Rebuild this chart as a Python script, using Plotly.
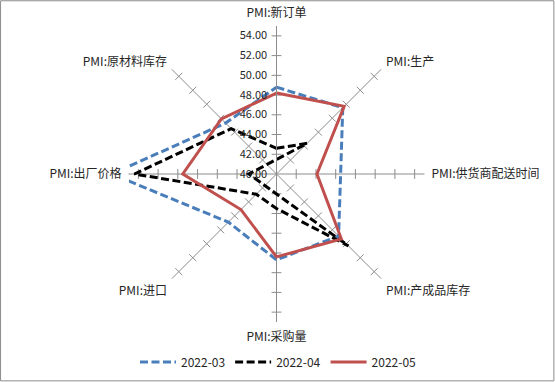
import plotly.graph_objects as go

categories = ["PMI:新订单", "PMI:生产", "PMI:供货商配送时间", "PMI:产成品库存",
              "PMI:采购量", "PMI:进口", "PMI:出厂价格", "PMI:原材料库存"]
series_names = ["2022-03", "2022-04", "2022-05"]
values_2022_03 = [48.8, 49.5, 46.5, 48.9, 48.7, 46.9, 56.7, 47.3]
values_2022_04 = [42.6, 44.4, 37.2, 50.3, 43.5, 42.9, 54.4, 46.5]
values_2022_05 = [48.2, 49.7, 44.1, 49.3, 48.4, 45.1, 49.5, 47.9]
tick_values = [40, 42, 44, 46, 48, 50, 52, 54]
tick_labels = ["40.00", "42.00", "44.00", "46.00", "48.00", "50.00", "52.00", "54.00"]
r_min, r_max = 40, 55

W, H = 555, 382
cx, cy, R = 276.5, 174, 148

n = len(categories)
cat_angles = [360.0 * i / n for i in range(n)]

styles = [
    dict(color="#4A7EBB", dash="8px,3.5px", width=3),
    dict(color="#000000", dash="8px,3.5px", width=3),
    dict(color="#C0504D", dash="solid", width=3),
]


def radar_coords(vals):
    # Excel-style radar: values below the axis minimum are drawn on the opposite side
    rs, ts = [], []
    for v, a in zip(vals, cat_angles):
        if v >= r_min:
            rs.append(v)
            ts.append(a)
        else:
            rs.append(2 * r_min - v)
            ts.append((a + 180) % 360)
    return rs + rs[:1], ts + ts[:1]


fig = go.Figure()

# small tick crosses on every spoke
for ang in cat_angles:
    fig.add_trace(go.Scatterpolar(
        r=tick_values[1:], theta=[ang] * (len(tick_values) - 1),
        mode="markers", showlegend=False, hoverinfo="skip",
        marker=dict(symbol="line-ns", size=7, angle=ang + 90,
                    line=dict(color="#8c8c8c", width=1), color="#8c8c8c")))

for name, vals, st in zip(series_names, [values_2022_03, values_2022_04, values_2022_05], styles):
    rr, tt = radar_coords(vals)
    fig.add_trace(go.Scatterpolar(
        r=rr, theta=tt, mode="lines", name=name, line=st, hoverinfo="skip"))

font_cjk = "Noto Sans CJK SC, Microsoft YaHei, sans-serif"

fig.update_layout(
    width=W, height=H,
    margin=dict(l=0, r=0, t=0, b=0),
    paper_bgcolor="white",
    font=dict(family=font_cjk, size=12, color="#262626"),
    polar=dict(
        domain=dict(x=[(cx - R) / W, (cx + R) / W], y=[1 - (cy + R) / H, 1 - (cy - R) / H]),
        bgcolor="rgba(0,0,0,0)",
        radialaxis=dict(range=[r_min, r_max], tickvals=tick_values, ticktext=tick_labels,
                        angle=90, tickangle=90, side="counterclockwise",
                        showgrid=False, showline=True, linecolor="#8c8c8c", linewidth=1,
                        ticks="outside", ticklen=5, tickcolor="rgba(0,0,0,0)",
                        tickfont=dict(size=11, color="#262626")),
        angularaxis=dict(type="linear", thetaunit="degrees",
                         direction="clockwise", rotation=90,
                         tickvals=cat_angles, ticktext=categories,
                         showline=False, showgrid=True,
                         gridcolor="#8c8c8c", gridwidth=1,
                         ticks="outside", ticklen=4, tickcolor="rgba(0,0,0,0)",
                         tickfont=dict(size=12, color="#262626")),
    ),
    legend=dict(orientation="h", x=0.5 + 1 / W, xanchor="center", y=1 - 362 / H, yanchor="middle",
                font=dict(size=12), itemwidth=36, bgcolor="rgba(0,0,0,0)"),
    shapes=[dict(type="rect", xref="paper", yref="paper", x0=0.001, x1=0.998, y0=0.003, y1=0.998,
                 line=dict(color="#8c8c8c", width=1))],
)

fig.write_html("out.html",
               config={"displayModeBar": False},
               post_script="document.body.style.margin='0';document.body.style.overflow='hidden';")
